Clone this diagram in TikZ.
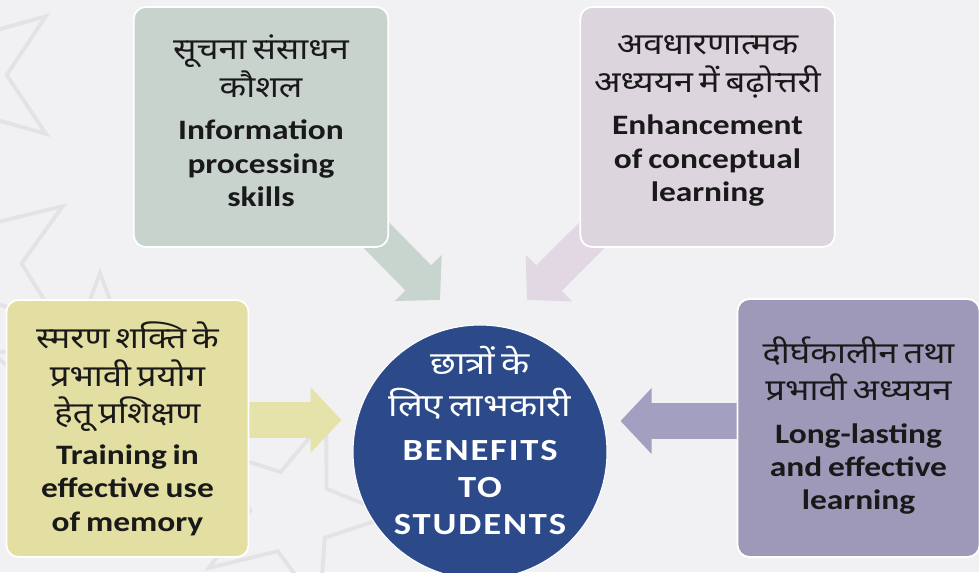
\documentclass[tikz,border=0pt]{standalone}
\usepackage{fontspec}
\setmainfont[FakeStretch=1.19]{Carlito}
\newfontfamily\hindifont[Script=Devanagari, FakeStretch=1.16, WordSpace=2.4]{Noto Sans}
\usetikzlibrary{arrows.meta, positioning, calc, shapes.geometric}

\definecolor{bgpage}{HTML}{F1F1F3}
\definecolor{starline}{HTML}{E3E3E5}
\definecolor{sagebox}{HTML}{C9D3CE}
\definecolor{sagearrow}{HTML}{C8D4CE}
\definecolor{lilacbox}{HTML}{DDD5DE}
\definecolor{lilacarrow}{HTML}{E1D8E3}
\definecolor{lemonbox}{HTML}{E3DFA2}
\definecolor{lemonarrow}{HTML}{E5E3AA}
\definecolor{mauvebox}{HTML}{9E99B9}
\definecolor{mauvearrow}{HTML}{A39FC1}
\definecolor{hubblue}{HTML}{2C4A8A}

\newcommand{\hinline}{\hindifont\fontsize{17}{21.5}\selectfont}
\newcommand{\engline}{\normalfont\bfseries\fontsize{16}{19}\selectfont}

\pgfdeclarelayer{deco}
\pgfdeclarelayer{arrowlayer}
\pgfsetlayers{deco,arrowlayer,main}

\begin{document}
\begin{tikzpicture}[
    x=0.02cm, y=-0.02cm, % 1 unit = 1 pixel of the layout
    infobox/.style={rounded corners=0.24cm, draw=white, line width=1pt,
        text=black!90, align=center, inner sep=2pt}, % pastel boxes
    hubdisc/.style={circle, fill=hubblue, draw=white, line width=0.6pt,
        inner sep=0pt}, % centre disc
    hubtext/.style={text=white, align=center, text width=4.6cm, inner sep=0pt},
    blockarrow/.style={line width=0.72cm, line cap=butt,
        -{Triangle[width=1.28cm, length=0.62cm]}}, % broad arrows
    bgstar/.style={star, star points=5, star point ratio=2.4,
        draw=starline, line width=2.2pt} % faint stars behind
]
    % 1. page and faint stars
    \useasboundingbox (0,0) rectangle (979,572);
    \begin{pgfonlayer}{deco}
        \fill[bgpage] (0,0) rectangle (979,572);
        \node[bgstar, minimum size=4cm, rotate=18] (starA) at (-35,75) {};
        \node[bgstar, minimum size=4cm, rotate=16] (starB) at (-20,262) {};
        \node[bgstar, minimum size=4.6cm] (starC) at (100,388) {};
        \node[bgstar, minimum size=4cm, rotate=-20] (starD) at (292,512) {};
    \end{pgfonlayer}

    % 2. the four boxes
    \node[infobox, fill=sagebox, minimum width=5.04cm, minimum height=4.8cm,
        text width=4.95cm] (info) at (261,127)
        {\hinline सूचना संसाधन\\ कौशल\par\vspace{5pt}
         \engline Information\\ processing\\ skills\par\vspace{0.24cm}};
    \node[infobox, fill=lilacbox, minimum width=5.02cm, minimum height=4.8cm,
        text width=4.95cm] (concept) at (707.5,127)
        {\hinline अवधारणात्मक\\ अध्ययन में बढ़ोत्तरी\par\vspace{5pt}
         \engline Enhancement\\ of conceptual\\ learning\par\vspace{0.24cm}};
    \node[infobox, fill=lemonbox, minimum width=4.78cm, minimum height=5.14cm,
        text width=4.7cm] (memory) at (127.5,428.5)
        {\hinline स्मरण शक्ति के\\ प्रभावी प्रयोग\\ हेतू प्रशिक्षण\par\vspace{4pt}
         \engline Training in\\ effective use\\ of memory\par};
    \node[infobox, fill=mauvebox, minimum width=4.74cm, minimum height=5.16cm,
        text width=4.7cm] (lasting) at (858.5,428)
        {\hinline दीर्घकालीन तथा\\ प्रभावी अध्ययन\par\vspace{5pt}
         \engline Long-lasting\\ and effective\\ learning\par\vspace{0.1cm}};

    % 3. centre disc and its text
    \node[hubdisc, minimum size=5.08cm] (hub) at (480,452) {};
    \node[hubtext] (hubtext) at (hub.center)
        {\hinline\fontsize{18}{24}\selectfont छात्रों के\\ लिए लाभकारी\par\vspace{4pt}
         \engline\addfontfeature{LetterSpace=6}\fontsize{17.5}{21}\selectfont
         BENEFITS\\ TO\\ STUDENTS\par\vspace{0.48cm}};

    % 4. arrows towards the disc (kept behind the boxes)
    \coordinate (infotip) at (440,300);
    \coordinate (concepttip) at (527,300);
    \coordinate (memtail) at ([yshift=0.17cm]memory.east);
    \coordinate (lasttail) at ([yshift=0.14cm]lasting.west);
    \begin{pgfonlayer}{arrowlayer}
        \draw[blockarrow, sagearrow] ([shift={(-0.4cm,0.4cm)}]info.south east) -- (infotip);
        \draw[blockarrow, lilacarrow] ([shift={(0.4cm,0.4cm)}]concept.south west) -- (concepttip);
        \draw[blockarrow, lemonarrow, shorten >=0.22cm] (memtail) -- (memtail -| hub.west);
        \draw[blockarrow, mauvearrow, shorten >=0.26cm] (lasttail) -- (lasttail -| hub.east);
    \end{pgfonlayer}

\end{tikzpicture}
\end{document}
